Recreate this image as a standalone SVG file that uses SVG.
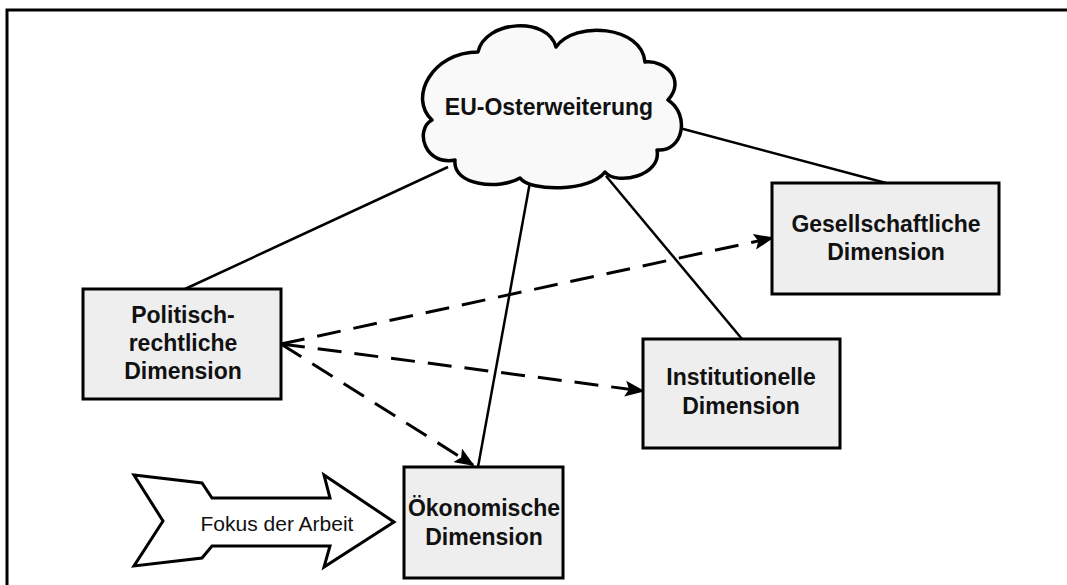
<svg xmlns="http://www.w3.org/2000/svg" width="1067" height="585" viewBox="0 0 1067 585">
  <style>
    .frame { fill: #ffffff; stroke: #000000; stroke-width: 3; }
    .box { fill: #eeeeee; stroke: #000000; stroke-width: 3; }
    .cloud { fill: #f9f9f9; stroke: #000000; stroke-width: 3.5; stroke-linejoin: round; }
    .label { font-family: "Liberation Sans", Arial, sans-serif; font-weight: bold; font-size: 23px; fill: #111111; text-anchor: middle; }
    .plain { font-family: "Liberation Sans", Arial, sans-serif; font-size: 21px; fill: #111111; text-anchor: middle; }
    .solid { fill: none; stroke: #000000; stroke-width: 2.5; }
    .dashed { fill: none; stroke: #000000; stroke-width: 3; stroke-dasharray: 24 13; marker-end: url(#head); }
    .block { fill: #ffffff; stroke: #000000; stroke-width: 3; stroke-linejoin: miter; }
  </style>
  <defs>
    <marker id="head" markerUnits="userSpaceOnUse" markerWidth="20" markerHeight="16" viewBox="0 0 20 16" refX="18" refY="8" orient="auto">
      <path d="M0,0 L20,8 L0,16 L4,8 z" fill="#000000"/>
    </marker>
  </defs>

  <!-- outer frame -->
  <rect class="frame" x="7" y="10" width="1066" height="590"/>

  <!-- connectors -->
  <g id="connectors">
    <line class="solid" x1="448" y1="167" x2="185" y2="289"/>
    <line class="solid" x1="530" y1="182" x2="478" y2="467"/>
    <line class="solid" x1="606" y1="176" x2="742" y2="339"/>
    <line class="solid" x1="672" y1="126" x2="886" y2="183"/>
    <line class="dashed" x1="281" y1="344" x2="772" y2="238"/>
    <line class="dashed" x1="281" y1="344" x2="643" y2="391"/>
    <line class="dashed" x1="281" y1="344" x2="473" y2="465"/>
  </g>

  <!-- central cloud -->
  <g id="eu-osterweiterung">
    <path class="cloud" d="M478,52 C485,20 548,16 556,47 C575,20 642,26 645,62 C666,60 686,80 668,100 C690,114 684,152 657,150 C662,176 616,186 605,172 C590,192 530,192 520,178 C500,190 452,186 455,160 C425,166 414,130 432,120 C408,98 432,52 478,52 Z"/>
    <text class="label" x="549" y="115">EU-Osterweiterung</text>
  </g>

  <g id="politisch-rechtlich">
    <rect class="box" x="83" y="289" width="198" height="110"/>
    <text class="label" x="183" y="323">Politisch-</text>
    <text class="label" x="183" y="351">rechtliche</text>
    <text class="label" x="183" y="379">Dimension</text>
  </g>

  <g id="gesellschaftlich">
    <rect class="box" x="772" y="183" width="227" height="111"/>
    <text class="label" x="886" y="232">Gesellschaftliche</text>
    <text class="label" x="886" y="260">Dimension</text>
  </g>

  <g id="institutionell">
    <rect class="box" x="643" y="339" width="197" height="109"/>
    <text class="label" x="741" y="385">Institutionelle</text>
    <text class="label" x="741" y="414">Dimension</text>
  </g>

  <g id="oekonomisch">
    <rect class="box" x="404" y="467" width="159" height="111"/>
    <text class="label" x="484" y="516">Ökonomische</text>
    <text class="label" x="484" y="545">Dimension</text>
  </g>

  <!-- focus block arrow -->
  <g id="fokus">
    <path class="block" d="M134,475 L202,483 L212,498 L330,498 L324,475 L394,522 L324,567 L330,546 L212,546 L202,558 L134,566 L163,521 Z"/>
    <text class="plain" x="277" y="531">Fokus der Arbeit</text>
  </g>
</svg>
